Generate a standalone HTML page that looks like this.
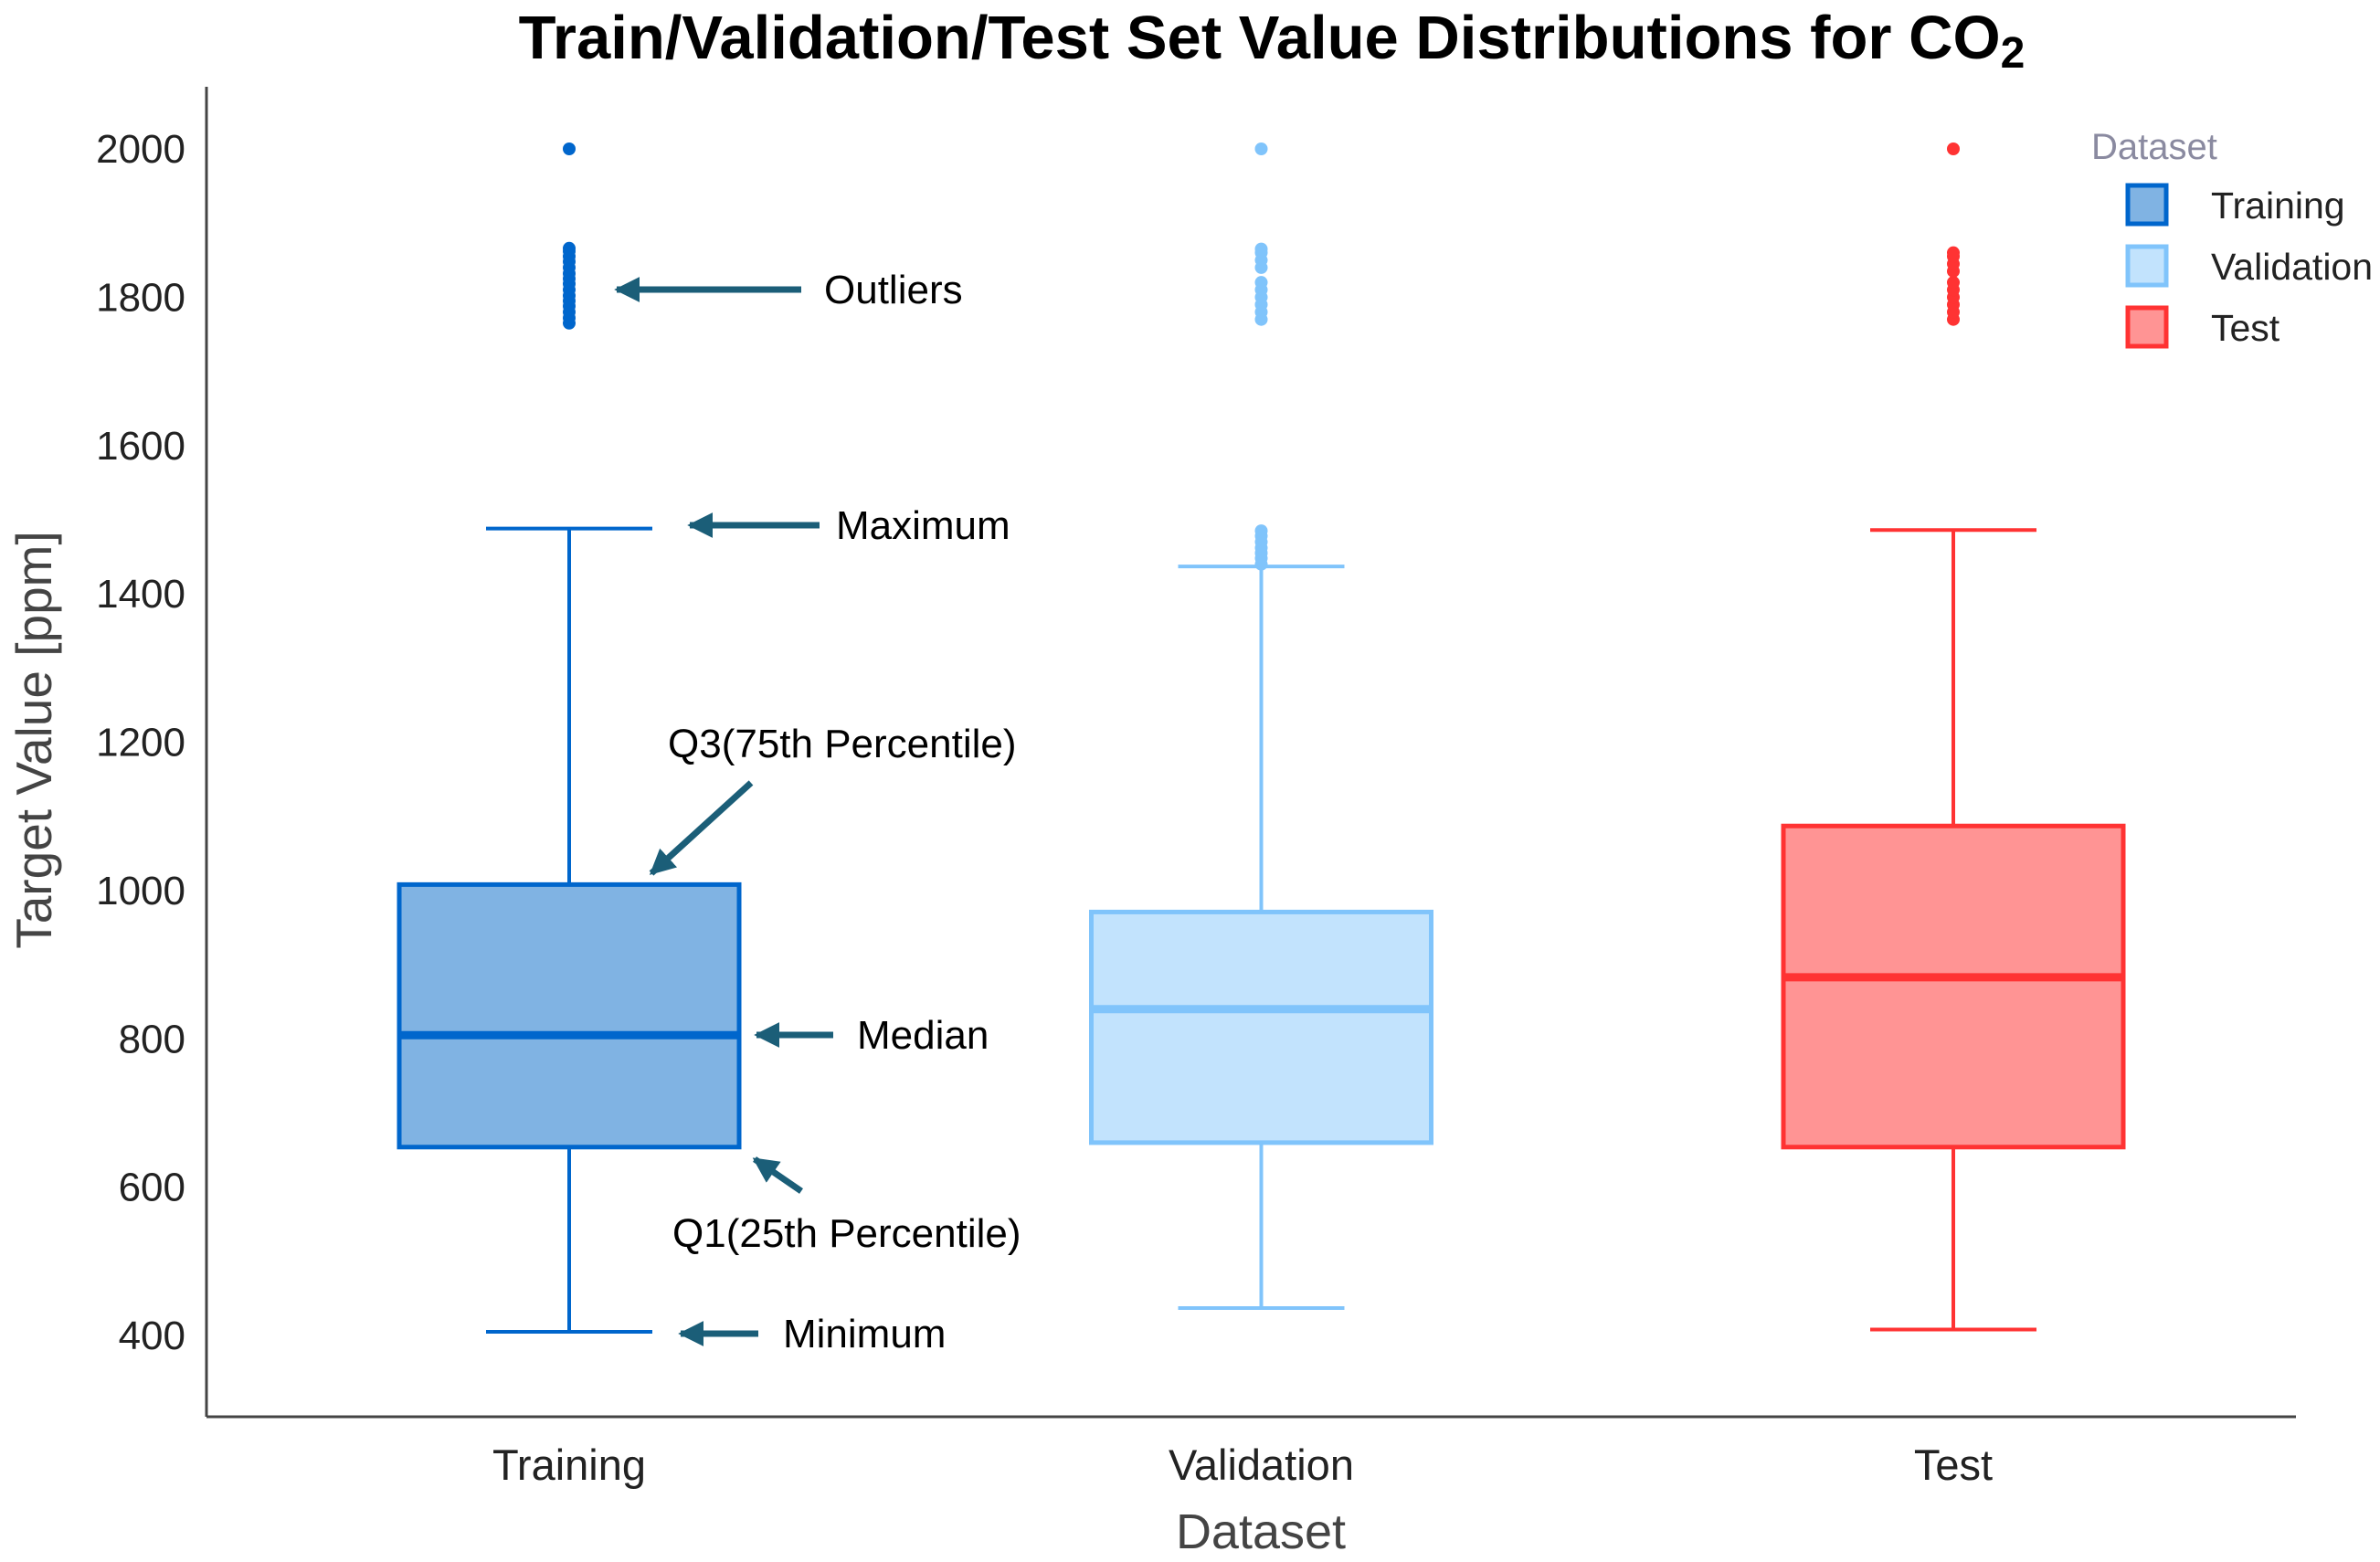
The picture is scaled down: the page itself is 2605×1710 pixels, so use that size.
<!DOCTYPE html>
<html><head><meta charset="utf-8"><style>
html,body{margin:0;padding:0;background:#fff;}
svg{display:block;font-family:"Liberation Sans",Arial,sans-serif;}
</style></head><body>
<svg id="chart" width="2605" height="1710" viewBox="0 0 2605 1710" xmlns="http://www.w3.org/2000/svg">
<defs><marker id="ah" viewBox="0 0 10 10" refX="9" refY="5" markerWidth="4" markerHeight="4" orient="auto"><path d="M0,0 L10,5 L0,10 z" fill="#1b5e78"/></marker></defs>
<text x="1392" y="64" text-anchor="middle" font-size="67" font-weight="bold" fill="#000">Train/Validation/Test Set Value Distributions for CO<tspan font-size="48" dy="10">2</tspan></text>
<g id="axes"></g>
<g id="marks"></g>
<g id="annot" fill="#000" font-size="44">
<text x="902" y="332">Outliers</text>
<text x="915" y="590">Maximum</text>
<text x="731" y="829">Q3(75th Percentile)</text>
<text x="938" y="1148">Median</text>
<text x="736" y="1365">Q1(25th Percentile)</text>
<text x="857" y="1475">Minimum</text>
<g stroke="#1b5e78" stroke-width="7" marker-end="url(#ah)">
<line x1="877" y1="317" x2="675" y2="317"/>
<line x1="897" y1="575" x2="755" y2="575"/>
<line x1="822" y1="857" x2="713" y2="956"/>
<line x1="912" y1="1133" x2="828" y2="1133"/>
<line x1="877" y1="1304" x2="826" y2="1269"/>
<line x1="830" y1="1460" x2="745" y2="1460"/>
</g></g>
<g id="legend"></g>
</svg>
<script>
const categories=["Training","Validation","Test"];
const mins=[405,437,408];
const q1s=[654,660,654];
const medians=[805,840,883];
const q3s=[1008,971,1087];
const maxs=[1488,1437,1486];
const outliersTraining=[2000,1765,1772,1780,1788,1795,1802,1810,1818,1825,1832,1840,1848,1855,1862,1866];
const outliersValidation=[2000,1440,1448,1455,1462,1470,1478,1485,1770,1780,1790,1800,1810,1820,1840,1850,1860,1865];
const outliersTest=[2000,1770,1780,1790,1800,1810,1820,1835,1845,1855,1860];
const yTicks=[400,600,800,1000,1200,1400,1600,1800,2000];
const fills=["#80b3e3","#c2e3fd","#ff9494"];
const strokes=["#0066cc","#80c4fb","#ff3333"];
const outliers=[outliersTraining,outliersValidation,outliersTest];

const NS="http://www.w3.org/2000/svg";
const X0=226,X1=2513,YB=1551,YT=95;
const y=v=>1462-(v-400)*(1462-163)/1600;
const xc=i=>623+i*757.5;
function mk(tag,attrs,parent,txt){const e=document.createElementNS(NS,tag);for(const k in attrs)e.setAttribute(k,attrs[k]);if(txt!==undefined)e.textContent=txt;parent.appendChild(e);return e;}
const ax=document.getElementById('axes');
let e=mk('line',{x1:X0,y1:YT,x2:X0,y2:YB,stroke:'#444','stroke-width':3},ax);


e=mk('line',{x1:X0,y1:YB,x2:X1,y2:YB,stroke:'#444','stroke-width':3},ax);


yTicks.forEach(t=>{
  const l=mk('text',{x:203,y:y(t)+15,'text-anchor':'end','font-size':44,fill:'#222'},ax,String(t));
  
  
});
categories.forEach((c,i)=>{
  const l=mk('text',{x:xc(i),y:1620,'text-anchor':'middle','font-size':47,fill:'#222'},ax,c);
  
  
});
e=mk('text',{x:0,y:0,transform:'translate(56,810) rotate(-90)','text-anchor':'middle','font-size':55,fill:'#444'},ax,'Target Value [ppm]');


e=mk('text',{x:1380,y:1695,'text-anchor':'middle','font-size':54,fill:'#444'},ax,'Dataset');



const mg=document.getElementById('marks');
categories.forEach((c,i)=>{
  const g=mk('g',{},mg);
  
  
  const cx=xc(i),hw=186,cw=91,s=strokes[i];
  mk('line',{x1:cx,y1:y(maxs[i]),x2:cx,y2:y(q3s[i]),stroke:s,'stroke-width':4},g);
  mk('line',{x1:cx,y1:y(q1s[i]),x2:cx,y2:y(mins[i]),stroke:s,'stroke-width':4},g);
  mk('line',{x1:cx-cw,y1:y(maxs[i]),x2:cx+cw,y2:y(maxs[i]),stroke:s,'stroke-width':4},g);
  mk('line',{x1:cx-cw,y1:y(mins[i]),x2:cx+cw,y2:y(mins[i]),stroke:s,'stroke-width':4},g);
  mk('rect',{x:cx-hw,y:y(q3s[i]),width:2*hw,height:y(q1s[i])-y(q3s[i]),fill:fills[i],stroke:s,'stroke-width':5},g);
  mk('line',{x1:cx-hw,y1:y(medians[i]),x2:cx+hw,y2:y(medians[i]),stroke:s,'stroke-width':9},g);
  outliers[i].forEach(v=>{
    const p=mk('circle',{cx:cx,cy:y(v),r:7,fill:s},g);
    
    
  });
});

const lg=document.getElementById('legend');
e=mk('text',{x:2289,y:174,'font-size':40,fill:'#8a8aa0'},lg,'Dataset');


categories.forEach((c,i)=>{
  const yy=224+i*67;
  const g=mk('g',{},lg);
  
  
  mk('rect',{x:2329,y:yy-21,width:42,height:42,fill:fills[i],stroke:strokes[i],'stroke-width':5},g);
  mk('text',{x:2420,y:yy+15,'font-size':41,fill:'#222'},g,c);
});
</script>
</body></html>
